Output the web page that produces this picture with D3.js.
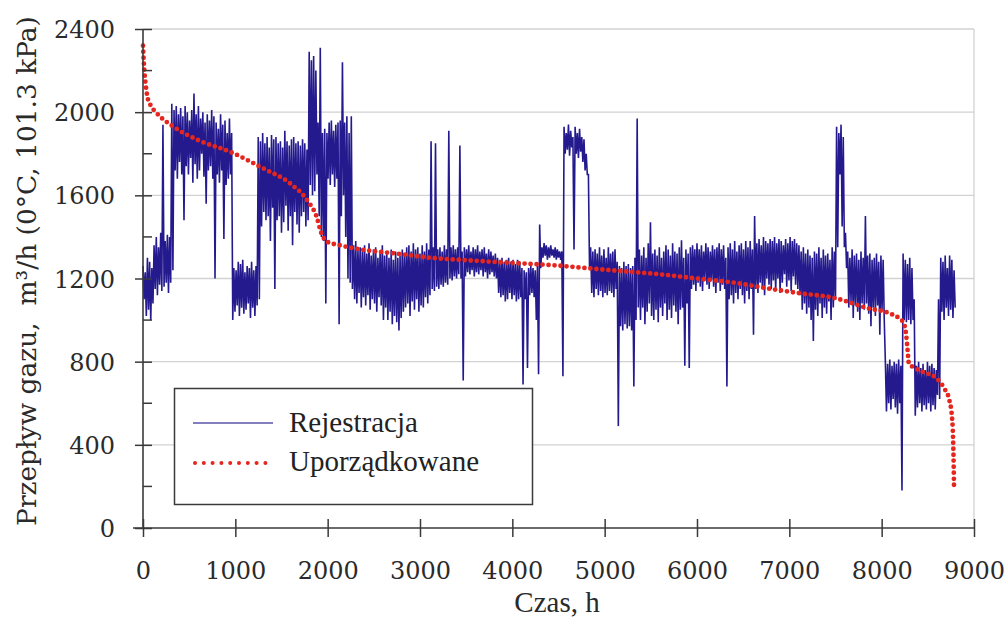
<!DOCTYPE html>
<html>
<head>
<meta charset="utf-8">
<script src="https://cdn.jsdelivr.net/npm/d3@7"></script>
<style>
  html, body { margin: 0; padding: 0; background: #fff; }
  svg { display: block; }
</style>
</head>
<body>
<svg id="chart" width="1008" height="621"></svg>
<script>
// Hourly gas flow over one year: the recorded trace and its sorted (duration) curve.
const xTicks = [0, 1000, 2000, 3000, 4000, 5000, 6000, 7000, 8000, 9000];
const yTicks = [0, 400, 800, 1200, 1600, 2000, 2400];
const yMinorTicks = [200, 600, 1000, 1400, 1800, 2200];

// Recorded flow: highest and lowest hourly reading of each day (m3/h)
const dayHours = 24;
const dailyMax = [
  1260, 1230, 1300, 1280, 1250, 1360, 1400, 1350, 1420, 1940,
  1380, 1410, 1400, 2040, 2010, 2030, 1990, 2020, 1980, 2030,
  2000, 1960, 2010, 2090, 1990, 2030, 1970, 2000, 1950, 1990,
  1960, 2010, 1980, 1950, 1920, 1990, 1940, 1960, 1900, 1970,
  1900, 1250, 1240, 1280, 1270, 1290, 1230, 1260, 1250, 1280,
  1240, 1260, 1880, 1860, 1900, 1850, 1880, 1830, 1890, 1870,
  1880, 1850, 1860, 1830, 1910, 1860, 1840, 1870, 1880, 1850,
  1860, 1840, 1870, 1850, 1820, 2290, 2250, 2270, 2200, 1950,
  2310, 1900, 1920, 1900, 1950, 1960, 1910, 1940, 1950, 1960,
  2240, 1950, 1980, 1900, 1980, 1360, 1380, 1340, 1350, 1330,
  1360, 1320, 1370, 1310, 1340, 1350, 1300, 1330, 1360, 1310,
  1320, 1300, 1340, 1290, 1330, 1300, 1310, 1340, 1320, 1350,
  1360, 1330, 1370, 1340, 1350, 1320, 1360, 1330, 1370, 1340,
  1860, 1350, 1850, 1340, 1350, 1330, 1360, 1340, 1910, 1350,
  1360, 1340, 1350, 1840, 1330, 1350, 1340, 1360, 1330, 1350,
  1340, 1360, 1330, 1340, 1350, 1320, 1340, 1330, 1310, 1320,
  1300, 1290, 1300, 1280, 1290, 1300, 1280, 1290, 1270, 1290,
  1280, 1250, 1240, 1230, 1250, 1260, 1250, 1240, 1260, 1460,
  1350, 1370, 1360, 1350, 1360, 1340, 1350, 1340, 1330, 1330,
  1930, 1900, 1940, 1910, 1880, 1930, 1900, 1920, 1880, 1870,
  1800, 1700, 1350, 1330, 1340, 1320, 1350, 1310, 1340, 1300,
  1350, 1320, 1330, 1340, 1280, 1260, 1250, 1280, 1260, 1270,
  1250, 1260, 1300, 1970, 1340, 1310, 1350, 1300, 1370, 1470,
  1320, 1340, 1310, 1350, 1300, 1330, 1360, 1340, 1310, 1370,
  1330, 1320, 1350, 1384, 1300, 1340, 1320, 1350, 1360, 1340,
  1370, 1340, 1360, 1330, 1370, 1350, 1330, 1360, 1340, 1350,
  1370, 1340, 1360, 1300, 1350, 1370, 1340, 1380, 1330, 1360,
  1370, 1340, 1380, 1350, 1380, 1340, 1500, 1370, 1390, 1360,
  1400, 1380, 1370, 1390, 1380, 1400, 1370, 1390, 1380, 1360,
  1390, 1370, 1400, 1380, 1390, 1370, 1360, 1330, 1350, 1320,
  1340, 1310, 1300, 1330, 1320, 1350, 1300, 1340, 1310, 1320,
  1290, 1350, 1330, 1930, 1900, 1940, 1880, 1420, 1330, 1300,
  1340, 1310, 1320, 1290, 1330, 1300, 1500, 1310, 1320, 1290,
  1300, 1320, 1280, 1310, 1290, 800, 790, 810, 780, 800,
  790, 810, 780, 1320, 1290, 1270, 1300, 1250, 1100, 780,
  800, 770, 790, 760, 800, 780, 790, 770, 760, 1100,
  1300, 1280, 1310, 1250, 1310, 1290, 1240
];
const dailyMin = [
  1100, 1020, 1050, 1000, 1080, 1150, 1120, 1170, 1140, 1160,
  1180, 1130, 1180, 1240, 1720, 1680, 1760, 1700, 1480, 1740,
  1700, 1780, 1660, 1750, 1680, 1720, 1800, 1690, 1560, 1720,
  1740, 1680, 1200, 1700, 1660, 1720, 1390, 1650, 1680, 1700,
  1000, 1040, 1070, 1020, 1060, 1030, 1050, 1080, 1010, 1060,
  1020, 1070, 1100, 1450, 1520, 1480, 1500, 1380, 1540, 1150,
  1480, 1500, 1420, 1470, 1550, 1430, 1500, 1360, 1520, 1460,
  1420, 1500, 1520, 1450, 1480, 1650, 1600, 1620, 1700, 1500,
  1400, 1380, 1080, 1680, 1650, 1700, 1640, 1680, 980, 1500,
  1600, 1400, 1200, 1180, 1150, 1100, 1080, 1130, 1060, 1110,
  1070, 1120, 1050, 1100, 1080, 1040, 1110, 1070, 1000, 1060,
  1000, 1040, 980, 1020, 990, 950, 1010, 1040, 1060, 1080,
  1020, 1090, 1050, 1100, 1040, 1070, 1060, 1110, 1080, 1120,
  1150, 1140, 1160, 1150, 1170, 1160, 1180, 1170, 1200, 1190,
  1210, 1200, 1220, 1200, 710, 1210, 1230, 1220, 1240, 1210,
  1230, 1220, 1240, 1210, 1230, 1200, 1220, 1230, 1210, 1200,
  1130, 1110, 1120, 1090, 1100, 1130, 1100, 1120, 1090, 1100,
  1110, 690, 1100, 770, 1120, 1130, 1110, 1000, 740, 1250,
  1300, 1310, 1290, 1300, 1310, 1300, 1290, 1300, 1290, 730,
  1800, 1820, 1790, 1830, 1340, 1800, 1780, 1810, 1760, 1720,
  1700, 1250, 1130, 1110, 1150, 1120, 1140, 1110, 1130, 1120,
  1140, 1130, 1110, 1150, 490, 970, 950, 980, 960, 970,
  950, 680, 1000, 1060, 1000, 1060, 980, 1040, 1080, 1020,
  1000, 1050, 990, 1060, 1020, 1080, 1000, 1050, 1010, 1070,
  1040, 980, 1050, 1060, 780, 1080, 770, 1150, 1170, 1140,
  1180, 1160, 1140, 1200, 1170, 1150, 1190, 1160, 1130, 1180,
  1140, 1170, 1150, 680, 1100, 1120, 1080, 1130, 1100, 1150,
  1120, 1080, 1140, 1100, 1150, 930, 1150, 1130, 1180, 1150,
  1120, 1200, 1170, 1150, 1190, 1140, 1200, 1130, 1180, 1220,
  1160, 1190, 1140, 1210, 1170, 1150, 1120, 1050, 1080, 1030,
  1060, 1000, 900, 1050, 1020, 1080, 1010, 1060, 1030, 1090,
  1000, 1060, 1100, 1350, 1700, 1450, 1350, 1250, 1060, 1090,
  1010, 1070, 1040, 1000, 1080, 1050, 1080, 1030, 970, 1060,
  1020, 1070, 930, 1050, 1000, 560, 600, 570, 620, 580,
  550, 600, 180, 1000, 990, 1000, 980, 1000, 540, 580,
  600, 560, 590, 570, 600, 560, 590, 570, 640, 620,
  1040, 1000, 1060, 1020, 1050, 1010, 1060
];

// Sorted (load duration) curve
const sortedHours = [0, 10, 25, 45, 80, 140, 330, 600, 950, 1300, 1600, 1780, 1880, 1930, 1990,
  2130, 2400, 2750, 3100, 3500, 4000, 4500, 4800, 5200, 5600, 6000, 6400, 6800, 7100, 7500,
  7850, 8100, 8200, 8240, 8265, 8280, 8295, 8350, 8450, 8580, 8680, 8730, 8760, 8772, 8780, 8784];
const sortedFlow = [2320, 2230, 2150, 2080, 2035, 2000, 1930, 1865, 1808, 1730, 1655, 1575, 1497, 1420, 1378,
  1360, 1337, 1320, 1300, 1288, 1275, 1262, 1250, 1235, 1220, 1200, 1180, 1150, 1130, 1105,
  1057, 1030, 1005, 985, 930, 860, 790, 772, 750, 725, 670, 620, 540, 450, 300, 180];

const legendLabels = ["Rejestracja", "Uporządkowane"];

const svg = d3.select("#chart");
const plot = { left: 143, right: 974, top: 29, bottom: 528 };

const x = d3.scaleLinear().domain([0, 9000]).range([plot.left, plot.right]);
const y = d3.scaleLinear().domain([0, 2400]).range([plot.bottom, plot.top]);

const axisColor = "#3a3a3a";
const gridColor = "#d2d2d2";
const blue = "#241a8e";
const red = "#e5261f";

// Horizontal grid lines and right border
svg.append("g").selectAll("line").data(yTicks.filter(d => d > 0)).join("line")
  .attr("x1", plot.left).attr("x2", plot.right)
  .attr("y1", d => y(d)).attr("y2", d => y(d))
  .attr("stroke", gridColor).attr("stroke-width", 1.3);
svg.append("line")
  .attr("x1", plot.right).attr("x2", plot.right)
  .attr("y1", plot.top).attr("y2", plot.bottom)
  .attr("stroke", gridColor).attr("stroke-width", 1.3);

// Recorded trace: each day contributes its peak, then its trough half a day later
const recordPoints = dailyMax.flatMap((hi, i) => [
  [i * dayHours, hi],
  [i * dayHours + dayHours / 2, dailyMin[i]]
]);
svg.append("path")
  .datum(recordPoints)
  .attr("d", d3.line().x(d => x(d[0])).y(d => y(d[1])))
  .attr("fill", "none")
  .attr("stroke", blue)
  .attr("stroke-width", 1.6)
  .attr("stroke-linejoin", "miter")
  .attr("stroke-miterlimit", 2);

// Sorted curve, drawn as a row of dots
const sortedLine = d3.line()
  .x((d, i) => x(sortedHours[i]))
  .y(d => y(d))
  .curve(d3.curveMonotoneX);
svg.append("path")
  .datum(sortedFlow)
  .attr("d", sortedLine)
  .attr("fill", "none")
  .attr("stroke", red)
  .attr("stroke-width", 4.8)
  .attr("stroke-linecap", "round")
  .attr("stroke-dasharray", "0,6");

// Y axis
const yAxis = svg.append("g")
  .attr("transform", `translate(${plot.left},0)`)
  .call(d3.axisLeft(y).tickValues(yTicks).tickFormat(d3.format("d")).tickSize(8).tickSizeOuter(0));
yAxis.select(".domain").remove();
yAxis.selectAll(".tick line").attr("x1", 9).attr("x2", -8)
  .attr("stroke", axisColor).attr("stroke-width", 1.5);
yAxis.selectAll(".tick text")
  .attr("x", -28).attr("dy", "0.36em")
  .attr("font-family", "DejaVu Serif").attr("font-size", 24).attr("fill", "#2a2a2a");
svg.append("g").selectAll("line").data(yMinorTicks).join("line")
  .attr("x1", plot.left).attr("x2", plot.left + 9)
  .attr("y1", d => y(d)).attr("y2", d => y(d))
  .attr("stroke", axisColor).attr("stroke-width", 1.5);
svg.append("line")
  .attr("x1", plot.left).attr("x2", plot.left)
  .attr("y1", plot.top).attr("y2", plot.bottom)
  .attr("stroke", axisColor).attr("stroke-width", 1.6);

// X axis
const xAxis = svg.append("g")
  .attr("transform", `translate(0,${plot.bottom})`)
  .call(d3.axisBottom(x).tickValues(xTicks).tickFormat(d3.format("d")).tickSize(9).tickSizeOuter(0));
xAxis.select(".domain").remove();
xAxis.selectAll(".tick line").attr("y1", -9).attr("y2", 9)
  .attr("stroke", axisColor).attr("stroke-width", 1.5);
xAxis.selectAll(".tick text")
  .attr("y", 51).attr("dy", 0)
  .attr("font-family", "DejaVu Serif").attr("font-size", 24).attr("fill", "#2a2a2a");
svg.append("line")
  .attr("x1", plot.left - 10).attr("x2", plot.right)
  .attr("y1", plot.bottom).attr("y2", plot.bottom)
  .attr("stroke", axisColor).attr("stroke-width", 1.6);

// Axis titles
svg.append("text")
  .attr("x", 557).attr("y", 612)
  .attr("text-anchor", "middle")
  .attr("font-family", "Liberation Serif").attr("font-size", 29).attr("fill", "#2a2a2a")
  .text("Czas, h");

const yTitle = svg.append("text")
  .attr("transform", "translate(36,271) rotate(-90)")
  .attr("text-anchor", "middle")
  .attr("font-family", "DejaVu Serif").attr("font-size", 22).attr("fill", "#2a2a2a")
  .attr("xml:space", "preserve")
  .style("white-space", "pre")
  .text("Przepływ gazu,  m³/h (0°C, 101.3 kPa)");
const titleLen = yTitle.node().getComputedTextLength();
yTitle.attr("font-size", 22 * 510 / titleLen);

// Legend
const legend = svg.append("g");
legend.append("rect")
  .attr("x", 174.5).attr("y", 388.5).attr("width", 358).attr("height", 116)
  .attr("fill", "#fff").attr("stroke", axisColor).attr("stroke-width", 1.5);
legend.append("line")
  .attr("x1", 193).attr("x2", 273).attr("y1", 423).attr("y2", 423)
  .attr("stroke", "#5a55a8").attr("stroke-width", 1.5);
legend.append("line")
  .attr("x1", 195).attr("x2", 266).attr("y1", 463).attr("y2", 463)
  .attr("stroke", red).attr("stroke-width", 4).attr("stroke-linecap", "round")
  .attr("stroke-dasharray", "0,8.8");
legend.selectAll("text.lbl").data(legendLabels).join("text")
  .attr("class", "lbl")
  .attr("x", 289).attr("y", (d, i) => 432 + i * 39)
  .attr("font-family", "Liberation Serif").attr("font-size", 29).attr("fill", "#222")
  .text(d => d);
</script>
</body>
</html>
